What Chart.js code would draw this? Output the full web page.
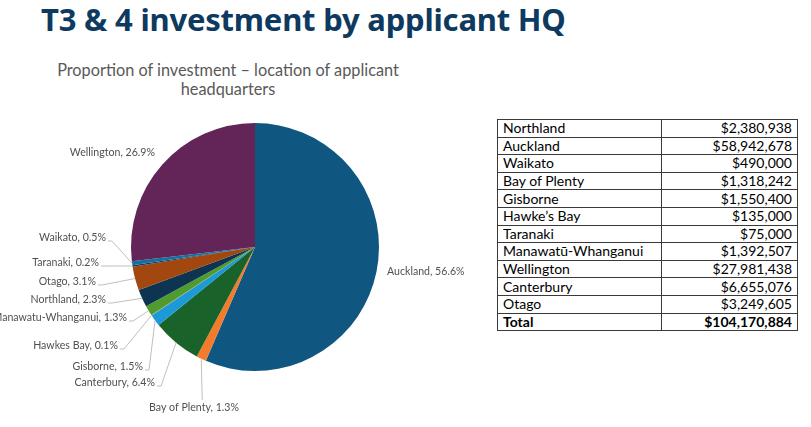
<!DOCTYPE html>
<html>
<head>
<meta charset="utf-8">
<script src="https://cdn.jsdelivr.net/npm/chart.js@4.4.1/dist/chart.umd.min.js"></script>
<style>
  body { margin: 0; width: 811px; height: 427px; background: #fff; overflow: hidden; position: relative; font-family: Lato, sans-serif; }
  #title { position: absolute; left: 41px; top: -2px; margin: 0; font-family: "Noto Sans", sans-serif; font-size: 31px; font-weight: 700; color: #0E3A5F; letter-spacing: -0.2px; }
  #subtitle { position: absolute; left: 28px; top: 60px; width: 400px; text-align: center; font-size: 16.3px; line-height: 19px; color: #595959; }
  #pie { position: absolute; left: 0; top: 0; }
  #tbl { position: absolute; left: 497px; top: 119px; border-collapse: collapse; font-size: 14px; color: #000; }
  #tbl td { border: 1px solid #3a3a3a; height: 16.6px; padding: 0 5px; line-height: 16px; }
  #tbl td.amt { text-align: right; }
  #tbl tr.total td { font-weight: 700; }
</style>
</head>
<body>
<h1 id="title">T3 &amp; 4 investment by applicant HQ</h1>
<div id="subtitle">Proportion of investment – location of applicant<br>headquarters</div>
<canvas id="pie" width="490" height="427"></canvas>
<table id="tbl"></table>
<script>
// pie slices, in the order the chart draws them (clockwise from 12 o'clock)
const pieLabels = ['Auckland', 'Bay of Plenty', 'Canterbury', 'Gisborne', 'Hawkes Bay', 'Manawatu-Whanganui',
                   'Northland', 'Otago', 'Taranaki', 'Waikato', 'Wellington'];
const piePercent = [56.6, 1.3, 6.4, 1.5, 0.1, 1.3, 2.3, 3.1, 0.2, 0.5, 26.9];
const pieColours = ['#0F5781', '#F27C2C', '#19632A', '#1C9AD8', '#8E8E8E', '#4F9B2E',
                    '#0D3552', '#A2470F', '#1C3B58', '#1270A3', '#632457'];

// table on the right
const tableRegions = ['Northland', 'Auckland', 'Waikato', 'Bay of Plenty', 'Gisborne', 'Hawke’s Bay', 'Taranaki',
                      'Manawatū-Whanganui', 'Wellington', 'Canterbury', 'Otago'];
const tableAmounts = ['$2,380,938', '$58,942,678', '$490,000', '$1,318,242', '$1,550,400', '$135,000', '$75,000',
                      '$1,392,507', '$27,981,438', '$6,655,076', '$3,249,605'];
const tableTotal = '$104,170,884';

// where each data label sits, relative to the pie centre: [dx, dy, align, leader]
const labelLayout = [
    [132, 25, 'left', false],
    [-61, 161, 'center', true],
    [-100, 136, 'right', true],
    [-112, 120, 'right', true],
    [-137, 99, 'right', true],
    [-128, 71, 'right', true],
    [-149, 53, 'right', true],
    [-159, 35, 'right', true],
    [-156, 16, 'right', true],
    [-149, -9, 'right', true],
    [-100, -94, 'right', false]
];


function build_table (){
    const tbl = document.getElementById('tbl');
    let html = '<colgroup><col style="width:164px"><col style="width:136px"></colgroup>';
    for (let i = 0; i < tableRegions.length; i++){
        html += '<tr><td>' + tableRegions[i] + '</td><td class="amt">' + tableAmounts[i] + '</td></tr>';
    }
    html += '<tr class="total"><td>Total</td><td class="amt">' + tableTotal + '</td></tr>';
    tbl.innerHTML = html;
}


const labelPlugin = {
    id: 'pieLabels',
    afterDatasetsDraw (chart){
        const ctx = chart.ctx;
        const meta = chart.getDatasetMeta(0);
        ctx.save();
        ctx.font = '10.6px Lato, sans-serif';
        ctx.fillStyle = '#505050';
        ctx.strokeStyle = '#BFBFBF';
        ctx.lineWidth = 1;
        ctx.textBaseline = 'middle';
        meta.data.forEach((arc, i) => {
            const p = arc.getProps(['x', 'y', 'startAngle', 'endAngle', 'outerRadius'], true);
            const mid = (p.startAngle + p.endAngle) / 2;
            const ex = p.x + Math.cos(mid) * p.outerRadius;
            const ey = p.y + Math.sin(mid) * p.outerRadius;
            const [dx, dy, align, leader] = labelLayout[i];
            const tx = p.x + dx, ty = p.y + dy;
            const text = pieLabels[i] + ', ' + piePercent[i].toFixed(1) + '%';
            ctx.textAlign = align;
            ctx.fillText(text, tx, ty);
            if (leader){
                ctx.beginPath();
                if (align == 'center'){
                    ctx.moveTo(ex + 1, ty - 8);
                } else {
                    ctx.moveTo(tx + 2, ty + 3);
                    ctx.lineTo(tx + 6, ty + 3);
                }
                ctx.lineTo(ex, ey);
                ctx.stroke();
            }
        });
        ctx.restore();
    }
};


function draw_pie (){
    const ctx = document.getElementById('pie').getContext('2d');
    const config = {
        type: 'pie',
        data: {
            labels: pieLabels,
            datasets: [{
                data: piePercent,
                backgroundColor: pieColours,
                borderWidth: 0,
                hoverOffset: 0
            }]
        },
        options: {
            responsive: false,
            animation: false,
            layout: { padding: { left: 131, right: 111, top: 123, bottom: 56 } },
            plugins: {
                legend: { display: false },
                tooltip: { enabled: false }
            }
        },
        plugins: [labelPlugin]
    };
    new Chart(ctx, config);
}

build_table();
draw_pie();
</script>
</body>
</html>
